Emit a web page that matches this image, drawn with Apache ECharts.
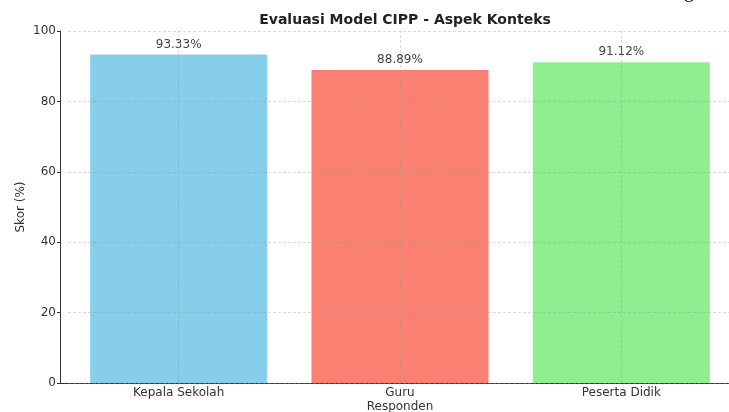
<!DOCTYPE html>
<html>
<head>
<meta charset="utf-8">
<script src="https://cdn.jsdelivr.net/npm/echarts@6/dist/echarts.min.js"></script>
<style>
html, body { margin: 0; padding: 0; background: #fff; }
#chart { width: 729px; height: 412px; }
</style>
</head>
<body>
<div id="chart"></div>
<script>
var categories = ["Kepala Sekolah", "Guru", "Peserta Didik"];
var scores = [93.33, 88.89, 91.12];
var barColors = ["#87CEEB", "#FA8072", "#90EE90"];
var yTicks = [0, 20, 40, 60, 80, 100];

var font = "DejaVu Sans";
var gridColor = "rgba(150,150,150,0.35)";

var myChart = echarts.init(document.getElementById("chart"));

var barData = scores.map(function (v, i) {
    return { value: v, itemStyle: { color: barColors[i] } };
});

var opt = {
    animation: false,
    title: {
        text: "Evaluasi Model CIPP - Aspek Konteks",
        left: 400,
        textAlign: "center",
        top: 8,
        textStyle: { fontFamily: font, fontSize: 14, fontWeight: "bold", color: "#222" }
    },
    graphic: [{
        type: "text",
        left: 684,
        top: -18,
        style: { text: "g", fontFamily: "Liberation Serif", fontSize: 20, fill: "#000" }
    }, {
        // bottom spine piece left of the first category band
        type: "line",
        shape: { x1: 60, y1: 383.5, x2: 68, y2: 383.5 },
        style: { stroke: "#333", lineWidth: 1 }
    }],
    grid: { left: 68, right: -3, top: 31, bottom: 29, outerBoundsMode: "none", containLabel: false },
    xAxis: {
        type: "category",
        data: categories,
        name: "Responden",
        nameLocation: "middle",
        nameGap: 18,
        nameMoveOverlap: false,
        nameTextStyle: { fontFamily: font, fontSize: 12, color: "#333" },
        axisLine: { lineStyle: { color: "#333", width: 1 } },
        axisTick: { alignWithLabel: true, length: 3, lineStyle: { color: "#333" } },
        axisLabel: { fontFamily: font, fontSize: 12, color: "#333", margin: 4 },
        splitLine: { show: false }
    },
    yAxis: {
        type: "value",
        min: yTicks[0],
        max: yTicks[yTicks.length - 1],
        interval: 20,
        offset: 8,
        z: 3,
        name: "Skor (%)",
        nameLocation: "middle",
        nameGap: 33,
        nameMoveOverlap: false,
        nameTextStyle: { fontFamily: font, fontSize: 12, color: "#333" },
        axisLine: { show: true, lineStyle: { color: "#333", width: 1 } },
        axisTick: { show: true, length: 3, lineStyle: { color: "#333" } },
        axisLabel: { fontFamily: font, fontSize: 12, color: "#333", margin: 4 },
        splitLine: { show: true, lineStyle: { color: gridColor, type: [3, 2] } }
    },
    series: [{
        type: "bar",
        data: barData,
        barWidth: "80%",
        label: {
            show: true,
            position: "top",
            distance: 4,
            formatter: function (p) { return p.value.toFixed(2) + "%"; },
            fontFamily: font,
            fontSize: 12,
            color: "#444"
        },
        markLine: {
            silent: true,
            symbol: "none",
            label: { show: false },
            lineStyle: { color: gridColor, type: [3, 2], width: 1 },
            data: categories.map(function (c) { return { xAxis: c }; })
        }
    }]
};
myChart.setOption(opt);
</script>
</body>
</html>
